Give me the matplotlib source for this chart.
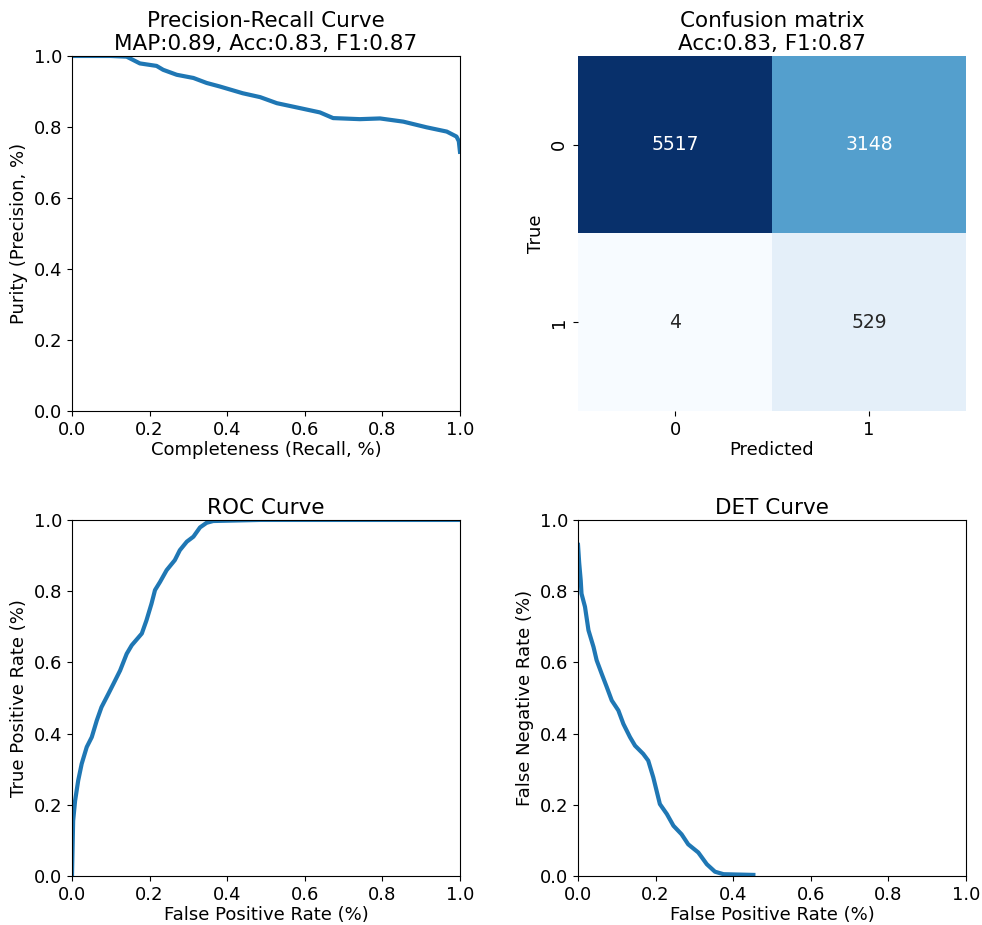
import numpy as np
import matplotlib
matplotlib.use("Agg")
import matplotlib.pyplot as plt
import seaborn as sns

# precision-recall curve
recall = [0.0, 0.05, 0.10, 0.141, 0.175, 0.218, 0.235, 0.27, 0.313, 0.347, 0.381,
          0.44, 0.485, 0.528, 0.588, 0.639, 0.673, 0.742, 0.794, 0.854, 0.914,
          0.966, 0.991, 0.997, 1.0]
precision = [1.0, 1.0, 1.0, 0.998, 0.979, 0.972, 0.961, 0.947, 0.938, 0.924, 0.914,
             0.895, 0.884, 0.867, 0.853, 0.841, 0.825, 0.822, 0.824, 0.815, 0.799,
             0.787, 0.773, 0.760, 0.730]

# ROC curve
roc_fpr = [0.0, 0.003, 0.008, 0.016, 0.025, 0.038, 0.051, 0.064, 0.076, 0.094,
           0.107, 0.124, 0.141, 0.154, 0.180, 0.192, 0.205, 0.214, 0.227, 0.244,
           0.265, 0.278, 0.296, 0.313, 0.330, 0.347, 0.364, 0.485, 1.0]
roc_tpr = [0.0, 0.155, 0.211, 0.268, 0.315, 0.362, 0.39, 0.437, 0.474, 0.512,
           0.540, 0.577, 0.624, 0.648, 0.681, 0.718, 0.765, 0.803, 0.826, 0.859,
           0.887, 0.915, 0.939, 0.953, 0.979, 0.992, 0.997, 1.0, 1.0]

# DET curve
det_fpr = [0.0, 0.003, 0.007, 0.009, 0.018, 0.027, 0.040, 0.048, 0.061, 0.074,
           0.087, 0.104, 0.117, 0.134, 0.147, 0.168, 0.181, 0.194, 0.211, 0.229,
           0.246, 0.267, 0.284, 0.310, 0.332, 0.353, 0.375, 0.452]
det_fnr = [0.93, 0.88, 0.83, 0.793, 0.756, 0.690, 0.643, 0.606, 0.568, 0.531,
           0.493, 0.465, 0.427, 0.390, 0.366, 0.343, 0.324, 0.277, 0.202, 0.174,
           0.141, 0.117, 0.089, 0.066, 0.033, 0.012, 0.005, 0.003]

# confusion matrix
cm = np.array([[5517, 3148],
               [4, 529]])
acc, f1, mean_ap = 0.83, 0.87, 0.89

plt.rcParams['font.size'] = 13
fig = plt.figure(figsize=(9.82, 9.25), dpi=100)
ax1 = fig.add_axes([0.0733, 0.5557, 0.3951, 0.3838])
ax2 = fig.add_axes([0.5886, 0.5557, 0.3951, 0.3838])
ax3 = fig.add_axes([0.0733, 0.0530, 0.3951, 0.3849])
ax4 = fig.add_axes([0.5886, 0.0530, 0.3951, 0.3849])

lc = '#1f77b4'
ax1.plot(recall, precision, color=lc, lw=3)
ax1.set_xlim(0, 1)
ax1.set_ylim(0, 1)
ax1.set_xlabel('Completeness (Recall, %)', labelpad=2)
ax1.set_ylabel('Purity (Precision, %)')
ax1.set_title('Precision-Recall Curve\nMAP:%.2f, Acc:%.2f, F1:%.2f' % (mean_ap, acc, f1),
              fontsize=15.5, pad=4)

sns.heatmap(cm, annot=True, fmt='d', cmap='Blues', cbar=False, ax=ax2,
            annot_kws={'fontsize': 13.5})
ax2.set_xlabel('Predicted', labelpad=2)
ax2.set_ylabel('True')
ax2.set_yticklabels(['0', '1'], rotation=90, va='center')
ax2.set_title('Confusion matrix\nAcc:%.2f, F1:%.2f' % (acc, f1),
              fontsize=15.5, pad=4)

ax3.plot(roc_fpr, roc_tpr, color=lc, lw=3)
ax3.set_xlim(0, 1)
ax3.set_ylim(0, 1)
ax3.set_xlabel('False Positive Rate (%)', labelpad=2)
ax3.set_ylabel('True Positive Rate (%)')
ax3.set_title('ROC Curve', fontsize=15.5, pad=4)

ax4.plot(det_fpr, det_fnr, color=lc, lw=3)
ax4.set_xlim(0, 1)
ax4.set_ylim(0, 1)
ax4.set_xlabel('False Positive Rate (%)', labelpad=2)
ax4.set_ylabel('False Negative Rate (%)')
ax4.set_title('DET Curve', fontsize=15.5, pad=4)

fig.savefig('out.png', dpi=100)
